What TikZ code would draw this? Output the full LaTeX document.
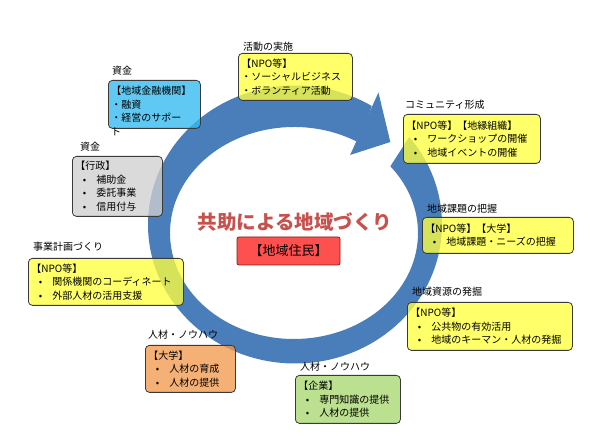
\documentclass[tikz,border=0pt]{standalone}
\usepackage{fontspec}
\setmainfont{Noto Sans CJK JP}
\usetikzlibrary{calc}
\definecolor{ringblue}{HTML}{4A7EBB}
\definecolor{yelfill}{HTML}{FFFF40}
\definecolor{bluefill}{HTML}{33BBF0}
\definecolor{grayfill}{HTML}{D0D0D0}
\definecolor{orangefill}{HTML}{F39A4F}
\definecolor{greenfill}{HTML}{A8D870}
\definecolor{boxline}{HTML}{3A3A3A}
\definecolor{titlered}{HTML}{C8504D}
\definecolor{resfill}{HTML}{FF5050}
\definecolor{resline}{HTML}{7F1F1F}
\newcommand\bu{\makebox[2.1em][l]{\hspace{0.75em}•}}
\tikzset{
  infobox/.style={draw=boxline, line width=0.8pt, rounded corners=4pt,
    fill opacity=0.78, text opacity=1, anchor=north west, align=left,
    inner xsep=3pt, inner ysep=0pt, font=\fontsize{10}{13.5}\selectfont},
  lbl/.style={anchor=west, inner sep=0pt, font=\fontsize{10}{12}\selectfont},
}
\begin{document}
\begin{tikzpicture}[x=1pt,y=-1pt]
\useasboundingbox (0,0) rectangle (590,443);
\fill[white] (0,0) rectangle (590,443);
\coordinate (co) at (295,224.5);
\coordinate (ci) at (294,233);
\coordinate (cm) at (294.5,229);
% ring band (outer ellipse / inner ellipse), gap between tail and head
\fill[ringblue]
  ($(co)+({147*cos(-39)},{139*sin(-39)})$)
  arc[start angle=-39, end angle=301.5, x radius=147, y radius=139]
  -- ($(ci)+({124*cos(301.5)},{106*sin(301.5)})$)
  arc[start angle=301.5, end angle=-39, x radius=124, y radius=106]
  -- cycle;
% arrow head
\fill[ringblue]
  ($(co)+({162*cos(301)},{154*sin(301)})$)
  -- ($(cm)+({135.5*cos(-45)},{123*sin(-45)})$)
  -- ($(ci)+({109*cos(301)},{91*sin(301)})$) -- cycle;
% boxes
\node[infobox, fill=yelfill, text width=108pt, minimum height=47pt] (b1) at (238,53) {【NPO等】\\・ソーシャルビジネス\\・ボランティア活動};
\node[lbl] (l1) at (243,47) {活動の実施};
\node[infobox, fill=bluefill, text width=86pt, minimum height=48pt] (b2) at (108,80) {【地域金融機関】\\・融資\\・経営のサポー};
\node[anchor=west, inner sep=0pt, font=\fontsize{10}{12}\selectfont] (b2x) at (111,132) {ト};
\node[lbl] (l2) at (112,71) {資金};
\node[infobox, fill=yelfill, text width=131pt, minimum height=49pt] (b3) at (403,114) {【NPO等】【地縁組織】\\\bu ワークショップの開催\\\bu 地域イベントの開催};
\node[lbl] (l3) at (405,105) {コミュニティ形成};
\node[infobox, fill=grayfill, text width=84pt, minimum height=60pt] (b4) at (72,156) {【行政】\\\bu 補助金\\\bu 委託事業\\\bu 信用付与};
\node[lbl] (l4) at (80,147) {資金};
\node[infobox, fill=yelfill, text width=149pt, minimum height=47pt] (b5) at (28,258) {【NPO等】\\\bu 関係機関のコーディネート\\\bu 外部人材の活用支援};
\node[lbl] (l5) at (33,247) {事業計画づくり};
\node[infobox, fill=yelfill, text width=145pt, minimum height=36pt] (b6) at (422,217) {【NPO等】【大学】\\\bu 地域課題・ニーズの把握};
\node[lbl] (l6) at (427,209) {地域課題の把握};
\node[infobox, fill=yelfill, text width=159pt, minimum height=48pt] (b7) at (407,302) {【NPO等】\\\bu 公共物の有効活用\\\bu 地域のキーマン・人材の発掘};
\node[lbl] (l7) at (412,292) {地域資源の発掘};
\node[infobox, fill=orangefill, text width=84pt, minimum height=47pt] (b8) at (145,345) {【大学】\\\bu 人材の育成\\\bu 人材の提供};
\node[lbl] (l8) at (148,335) {人材・ノウハウ};
\node[infobox, fill=greenfill, text width=99pt, minimum height=48pt] (b9) at (295,375) {【企業】\\\bu 専門知識の提供\\\bu 人材の提供};
\node[lbl] (l9) at (300,367) {人材・ノウハウ};
% center
\node[inner sep=0pt, text=titlered, font=\fontsize{19.5}{20}\selectfont\bfseries] (title) at (295,222) {共助による地域づくり};
\node[draw=resline, line width=0.8pt, fill=resfill, rounded corners=2pt, minimum width=103pt, minimum height=28pt, inner sep=0pt, font=\fontsize{13}{14}\selectfont] (res) at (288.5,251) {【地域住民】};
\end{tikzpicture}
\end{document}
